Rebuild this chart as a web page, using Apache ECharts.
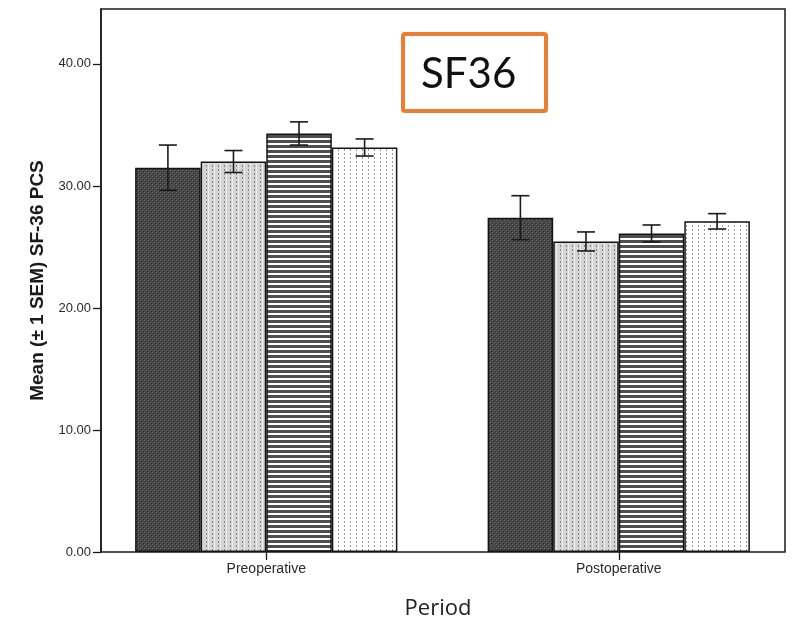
<!DOCTYPE html>
<html>
<head>
<meta charset="utf-8">
<script src="https://cdn.jsdelivr.net/npm/echarts@6/dist/echarts.min.js"></script>
<style>
  html, body { margin: 0; padding: 0; background: #fff; }
  #chart { width: 792px; height: 621px; }
</style>
</head>
<body>
<div id="chart"></div>
<script>
// Time points on the category axis
const periods = ['Preoperative', 'Postoperative'];

// Mean SF-36 PCS per group, one value per period
const meansG1 = [31.5, 27.4];
const meansG2 = [32.0, 25.45];
const meansG3 = [34.3, 26.1];
const meansG4 = [33.15, 27.1];

// Standard error of the mean per group, one value per period
const semG1 = [1.85, 1.8];
const semG2 = [0.9, 0.78];
const semG3 = [0.95, 0.7];
const semG4 = [0.7, 0.63];

// Value axis ticks
const yTicks = [0, 10, 20, 30, 40];

const groupMeans = [meansG1, meansG2, meansG3, meansG4];
const groupSems = [semG1, semG2, semG3, semG4];

// ---- hatch fills drawn into small canvases ----
function makePattern(w, h, draw) {
  const c = document.createElement('canvas');
  c.width = w; c.height = h;
  const ctx = c.getContext('2d');
  draw(ctx, w, h);
  return { image: c, repeat: 'repeat' };
}
const fillDark = makePattern(4, 4, (ctx) => {
  ctx.fillStyle = '#474747'; ctx.fillRect(0, 0, 4, 4);
  ctx.fillStyle = '#6a6a6a';
  ctx.fillRect(0, 0, 1, 1); ctx.fillRect(2, 2, 1, 1);
  ctx.fillStyle = '#363636';
  ctx.fillRect(1, 1, 1, 1); ctx.fillRect(3, 3, 1, 1);
});
const fillLightDots = makePattern(6, 4, (ctx) => {
  ctx.fillStyle = '#d4d4d4'; ctx.fillRect(0, 0, 6, 4);
  ctx.fillStyle = '#888888'; ctx.fillRect(2, 1, 1, 2);
  ctx.fillStyle = '#ececec'; ctx.fillRect(4, 0, 1, 4);
});
const fillStripes = makePattern(4, 5, (ctx) => {
  ctx.fillStyle = '#ffffff'; ctx.fillRect(0, 0, 4, 5);
  ctx.fillStyle = '#4e4e4e'; ctx.fillRect(0, 0, 4, 3);
});
const fillWhiteDots = makePattern(6, 4, (ctx) => {
  ctx.fillStyle = '#ffffff'; ctx.fillRect(0, 0, 6, 4);
  ctx.fillStyle = '#9a9a9a'; ctx.fillRect(2, 1, 1, 2);
});
const fills = [fillDark, fillLightDots, fillStripes, fillWhiteDots];

const catGapPct = 25.6; // gap between the two bar clusters, % of band
const nGroups = groupMeans.length;

// error bar items: [periodIndex, groupIndex, low, high]
const errData = [];
groupMeans.forEach((m, g) => {
  m.forEach((v, p) => {
    errData.push([p, g, v - groupSems[g][p], v + groupSems[g][p]]);
  });
});

const chart = echarts.init(document.getElementById('chart'), null, { renderer: 'canvas' });

const yRange = { min: 0, max: 44.5 };

const barSeries = groupMeans.map((m, g) => ({
  type: 'bar',
  xAxisIndex: 1,
  yAxisIndex: 1,
  data: m,
  barGap: '0%',
  barCategoryGap: catGapPct + '%',
  itemStyle: { color: fills[g], borderColor: '#151515', borderWidth: 1.5 },
  emphasis: { disabled: true },
  silent: true,
  z: 3
}));

const option = {
  animation: false,
  backgroundColor: '#ffffff',
  grid: [
    { left: 101, right: 7, top: 9, bottom: 69, show: true, borderColor: '#1a1a1a', borderWidth: 1.5, backgroundColor: 'transparent', outerBoundsMode: 'none', containLabel: false },
    { left: 90, right: -3, top: 9, bottom: 69, outerBoundsMode: 'none', containLabel: false }
  ],
  xAxis: [
    { type: 'value', gridIndex: 0, min: 0, max: 1, show: false },
    {
      type: 'category', gridIndex: 1, data: periods,
      axisLine: { show: false },
      axisTick: { show: true, alignWithLabel: true, length: 8, lineStyle: { color: '#1a1a1a', width: 1.3 } },
      axisLabel: { fontFamily: 'Liberation Sans', fontSize: 14, color: '#2a2a2a', margin: 10 },
      name: 'Period',
      nameLocation: 'middle',
      nameGap: 46,
      nameTextStyle: { fontFamily: 'Open Sans', fontSize: 22, color: '#222', padding: [0, 9, 0, 0] },
      splitLine: { show: false }
    }
  ],
  yAxis: [
    {
      type: 'value', gridIndex: 0, min: yRange.min, max: yRange.max, interval: 10,
      axisLine: { show: true, lineStyle: { color: '#1a1a1a', width: 1.5 } },
      axisTick: { show: true, length: 8, customValues: yTicks, lineStyle: { color: '#1a1a1a', width: 1.3 } },
      axisLabel: {
        customValues: yTicks, fontFamily: 'Liberation Sans', fontSize: 13, color: '#2a2a2a', margin: 10,
        formatter: (v) => v.toFixed(2)
      },
      splitLine: { show: false },
      name: 'Mean (± 1 SEM) SF-36 PCS',
      nameLocation: 'middle',
      nameGap: 53,
      nameTextStyle: { fontFamily: 'Liberation Sans', fontWeight: 'bold', fontSize: 19, color: '#1a1a1a' }
    },
    { type: 'value', gridIndex: 1, min: yRange.min, max: yRange.max, show: false }
  ],
  series: barSeries.concat([{
    type: 'custom',
    xAxisIndex: 1,
    yAxisIndex: 1,
    silent: true,
    z: 5,
    data: errData,
    renderItem: (params, api) => {
      const p = api.value(0);
      const g = api.value(1);
      const lo = api.coord([p, api.value(2)]);
      const hi = api.coord([p, api.value(3)]);
      const band = api.size([1, 0])[0];
      const used = band * (1 - catGapPct / 100);
      const bw = used / nGroups;
      const x = lo[0] - used / 2 + (g + 0.5) * bw;
      const cap = 9;
      const st = { stroke: '#1a1a1a', lineWidth: 1.6 };
      return {
        type: 'group',
        children: [
          { type: 'line', shape: { x1: x, y1: lo[1], x2: x, y2: hi[1] }, style: st },
          { type: 'line', shape: { x1: x - cap, y1: hi[1], x2: x + cap, y2: hi[1] }, style: st },
          { type: 'line', shape: { x1: x - cap, y1: lo[1], x2: x + cap, y2: lo[1] }, style: st }
        ]
      };
    }
  }]),
  graphic: [
    {
      type: 'rect', z: 10,
      shape: { x: 403, y: 34, width: 143, height: 77, r: 2 },
      style: { fill: '#ffffff', stroke: '#ED7D31', lineWidth: 4 }
    },
    {
      type: 'text', z: 11, x: 421, y: 74,
      style: { text: 'SF36', font: '42px Lato', fill: '#111', verticalAlign: 'middle' }
    }
  ]
};

chart.setOption(option);
</script>
</body>
</html>
